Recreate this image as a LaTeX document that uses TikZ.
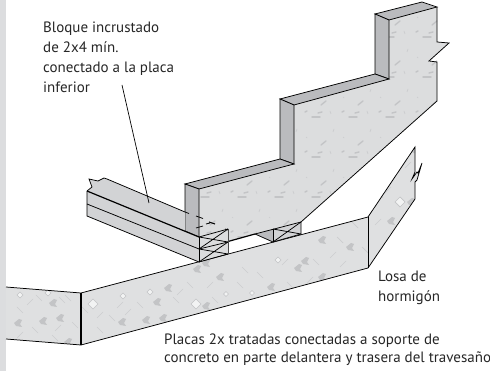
\documentclass[tikz,border=0pt]{standalone}
\usepackage{fontspec}
\setmainfont{PT Sans}
\definecolor{slabc}{HTML}{DFE0E1}
\definecolor{wallc}{HTML}{DCDDDE}
\definecolor{sidec}{HTML}{BABBBE}
\definecolor{blockc}{HTML}{D2D3D5}
\definecolor{texc}{HTML}{C3C4C6}
\definecolor{texl}{HTML}{CCCDCF}
\definecolor{stripc}{HTML}{DCDDDF}
\tikzset{
 edge/.style={draw=black,line width=0.75pt,line join=miter},
 thick edge/.style={draw=black,line width=1.2pt},
 label text/.style={font=\fontsize{15}{20}\selectfont,align=left,inner sep=0pt,anchor=north west,text=black!85},
 tex/.style={draw=texl,line width=0.7pt},
 texb/.style={draw=texc,line width=1.4pt,line cap=round},
}
\begin{document}
\begin{tikzpicture}[x=1pt,y=-1pt]
\useasboundingbox (0,0) rectangle (490,371);
\fill[stripc] (0,0) rectangle (6,371);
% slab
\path[fill=slabc] (6,287) -- (81,293) -- (81,345) -- (6,339) -- cycle;
\path[fill=slabc] (81,293) -- (368,217) -- (368,268) -- (81,345) -- cycle;
\path[fill=slabc] (368,217) -- (415,147) -- (415,172) -- (412,179) -- (417,172) -- (418,173) -- (422,163) -- (417,180) -- (415,182) -- (415,199) -- (368,268) -- cycle;
% slab texture
\begin{scope}
\clip (6,287) -- (81,293) -- (368,217) -- (415,147) -- (415,199) -- (368,268) -- (81,345) -- (6,339) -- cycle;
\foreach \x/\y/\r in {48/293/3,93/304/5,123/296/3,150/292/3,196/304/5,278/260/3,400/202/5,252/293/2.5,20/295/3,226/294/2.5}
 \draw[draw=texc,fill=white!60!slabc,line width=0.7pt] (\x-\r,\y) -- (\x,\y-\r) -- (\x+\r,\y) -- (\x,\y+\r) -- cycle;
\foreach \x/\y in {53/303,43/321,60/318,18/323,68/342,168/288,157/302,206/306,122/322,146/320,163/318,220/277,197/269,206/263,322/240,305/261,298/268,322/277,271/287,350/247,411/202,391/221,415/150}
 \fill[texc] (\x-4,\y) -- (\x+1,\y-4) -- (\x+4,\y-3) -- (\x+2,\y+1) -- (\x+4,\y+4) -- (\x-2,\y+3) -- cycle;
\foreach \x/\y in {39/298,68/298,62/300,55/338,35/330,85/310,100/330,112/318,140/305,176/300,190/285,215/300,245/270,240/285,260/275,268/305,290/285,316/262,340/240,355/225,365/250,380/195,395/170,404/228,385/255,225/310,135/335,20/310,75/325}
 \draw[tex] (\x-3,\y-3) -- (\x+3,\y+3);
\foreach \x/\y in {30/302,58/328,100/315,128/312,180/292,210/285,235/305,285/262,310/280,333/255,343/264,378/222,388/190,408/165,258/318,150/335,120/305,20/335}
 \draw[tex] (\x-3,\y+3) -- (\x+3,\y-3);
\end{scope}
\draw[edge] (6,287) -- (81,293) -- (368,217) -- (415,147) -- (415,172) -- (412,179) -- (417,172) -- (418,173) -- (422,163) -- (417,180) -- (415,182) -- (415,199) -- (368,268) -- (81,345) -- (6,339);
\draw[thick edge] (81,293) -- (81,345);
\draw[edge] (368,217) -- (368,268);
% wall
\path[fill=wallc] (437,7) -- (437,42) -- (449,43) -- (429,61) -- (437,62) -- (437,101) -- (301,222) -- (255,234) -- (228,241.5) -- (228,229) -- (199,237) -- (199,189) -- (294,164) -- (294,105) -- (389,79) -- (389,20) -- cycle;
\begin{scope}
\clip (437,7) -- (437,101) -- (301,222) -- (228,241.5) -- (199,237) -- (199,189) -- (294,164) -- (294,105) -- (389,79) -- (389,20) -- cycle;
\foreach \i in {0,...,7} \foreach \j in {-1,...,5} {
 \pgfmathsetmacro{\cx}{205+37*\i}
 \pgfmathsetmacro{\cy}{40*\j+37}
 \begin{scope}[shift={(\cx,\cy)}]
  \draw[texb] (-4,0) -- (4,0);
  \draw[texb] (5,-12) -- (10,-16);
  \draw[texb] (2,-4) -- (6,-5);
  \draw[texb] (-11,-5) -- (-9,-6);
  \draw[tex] (-10,-20) -- (-9,-19);
  \draw[tex] (14,-6) -- (15,-3);
  \draw[tex] (18,-28) -- (17,-25);
 \end{scope}
}
\end{scope}
% wall tops and sides
\draw[edge,fill=sidec] (375,14) -- (422,2) -- (437,7) -- (389,20) -- cycle;
\draw[edge,fill=sidec] (375,14) -- (389,20) -- (389,79) -- (375,74) -- cycle;
\draw[edge,fill=sidec] (280,99) -- (375,74) -- (389,79) -- (294,105) -- cycle;
\draw[edge,fill=sidec] (280,99) -- (294,105) -- (294,164) -- (280,159) -- cycle;
\draw[edge,fill=sidec] (185,184) -- (280,159) -- (294,164) -- (199,189) -- cycle;
\draw[edge,fill=sidec] (185,184) -- (199,189) -- (199,237) -- (185,231) -- cycle;
\draw[edge] (437,7) -- (437,42) -- (449,43) -- (429,61) -- (437,62) -- (437,101) -- (301,222);
% second plate
\fill[sidec] (255,234) -- (273,229) -- (273,242) -- cycle;
\fill[blockc] (273,229) -- (301,222) -- (301,234) -- (273,242) -- cycle;
\draw[thick edge] (228,241.5) -- (255,234);
\draw[edge] (255,234) -- (301,222) -- (301,234);
\draw[edge] (255,234) -- (273,242) -- (301,234);
\draw[edge] (273,229) -- (273,242);
\draw[edge] (273,229) -- (301,234) (273,242) -- (301,222);
% block
\fill[blockc] (87,191) -- (92,187) -- (89,179) -- (98,181) -- (104,178) -- (107,179) -- (185,212) -- (185,231) -- (199,237) -- (199,262) -- (87,216) -- cycle;
\draw[edge] (87,191) -- (92,187) -- (89,179) -- (98,181) -- (104,178) -- (107,179) -- (185,212);
\draw[line width=1.2pt] (87,191) -- (199,237);
\draw[edge] (87,204) -- (199,249);
\draw[edge] (87,191) -- (87,216) -- (199,262);
% first plate
\fill[wallc] (199,237) -- (228,229) -- (228,253) -- (199,262) -- cycle;
\draw[edge] (199,237) -- (199,262);
\draw[edge] (199,237) -- (228,229) (199,249) -- (228,242) (199,262) -- (228,254);
\draw[edge] (199,237) -- (228,242) (199,249) -- (228,229) (199,249) -- (228,254) (199,262) -- (228,242);
\draw[line width=1pt,draw=black!70] (228,229) -- (228,254);
% hidden lines
\draw[edge] (185,212) -- (189,213.5) (196,216) -- (203,218.5) (196,228) -- (203,226) (206,224) -- (210,223) (225,229) -- (228,230);
\draw[line width=1.1pt] (209,222) -- (215,224);
% leader
\coordinate (leadA) at (122,85);
\coordinate (leadB) at (149,203);
\draw[line width=0.7pt] (leadA) -- (leadB);
% labels
\node[label text] (l1) at (43,22) {Bloque incrustado\\de 2x4 mín.\\conectado a la placa\\inferior};
\node[label text] (l2) at (378,271) {Losa de\\hormigón};
\node[label text] (l3) at (164,334) {Placas 2x tratadas conectadas a soporte de\\[-2.3pt]concreto en parte delantera y trasera del travesaño};
\end{tikzpicture}
\end{document}
